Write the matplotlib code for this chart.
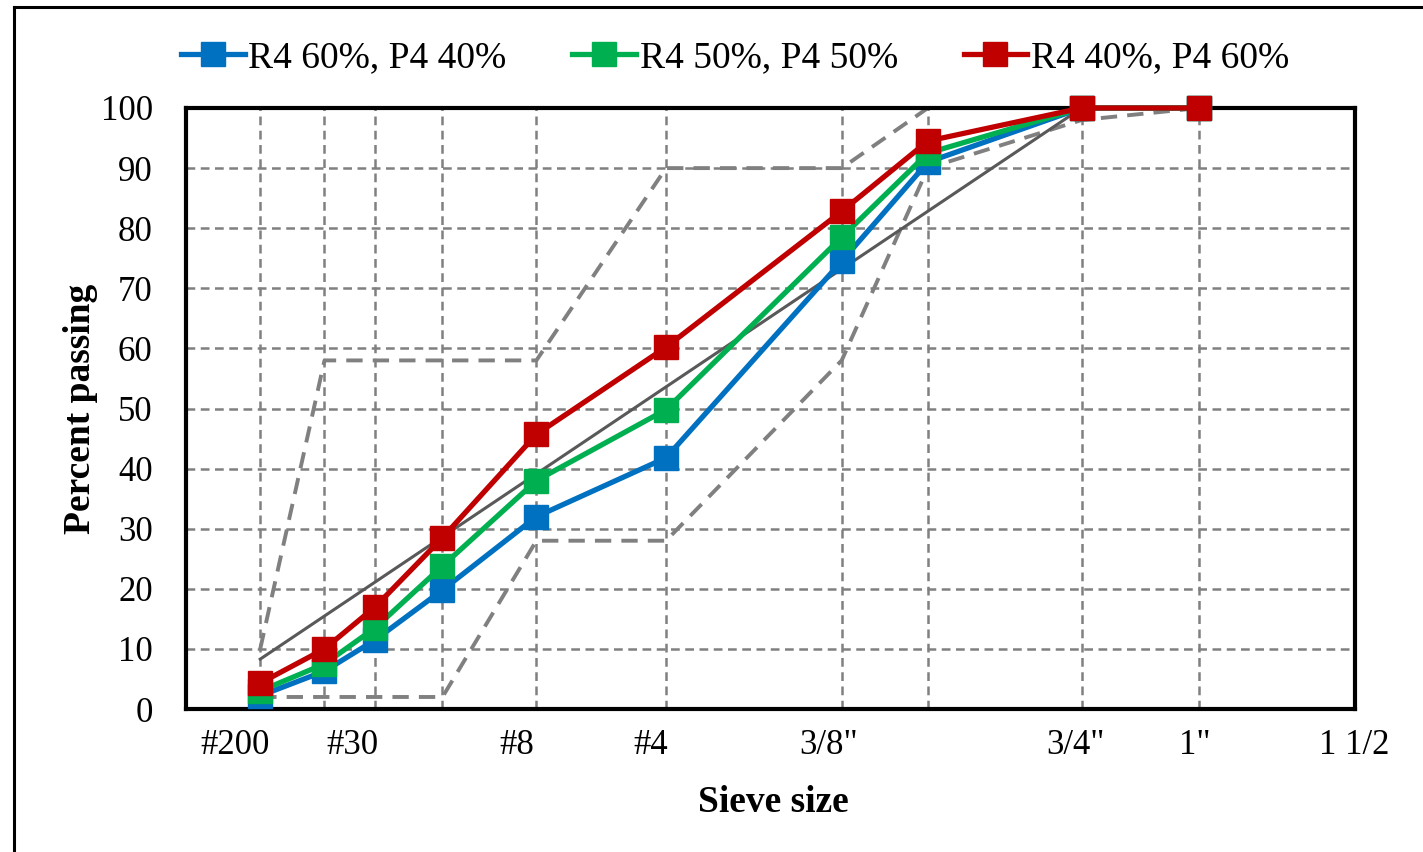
import matplotlib
matplotlib.use("Agg")
import matplotlib.pyplot as plt
from matplotlib.lines import Line2D
import numpy as np

plt.rcParams['font.family'] = ['Liberation Serif', 'DejaVu Serif']

# ---- data ----
sieve_mm = [0.075, 0.3, 0.6, 1.18, 2.36, 4.75, 9.5, 12.5, 19, 25]
series_names = ["R4 60%, P4 40%", "R4 50%, P4 50%", "R4 40%, P4 60%"]
blue_pct = [2.2, 6.3, 11.5, 19.8, 32.0, 41.8, 74.5, 91.0, 100, 100]
green_pct = [3.0, 7.5, 13.5, 23.8, 38.0, 49.8, 78.5, 92.5, 100, 100]
red_pct = [4.3, 10.0, 17.0, 28.5, 45.7, 60.2, 82.8, 94.5, 100, 100]

upper_sizes = [0.075, 0.3, 2.36, 4.75, 9.5, 12.5, 19, 25]
upper_pct = [10, 58, 58, 90, 90, 100, 100, 100]
lower_sizes = [0.075, 1.18, 2.36, 4.75, 9.5, 12.5, 19, 25]
lower_pct = [2, 2, 28, 28, 58, 90, 98, 100]

mdl_sizes = [0.075, 19]
mdl_pct = [8.3, 100]

tick_labels = ["#200", "#30", "#8", "#4", '3/8"', '3/4"', '1"', "1 1/2"]
tick_label_pos = [0.206, 0.697, 1.389, 1.951, 2.698, 3.735, 4.238, 4.906]

colors = ["#0070C0", "#00B050", "#C00000"]

def p45(v):
    return np.asarray(v, dtype=float) ** 0.45

fig = plt.figure(figsize=(14.23, 8.52), dpi=100)
ax = fig.add_axes([186/1423, 1-709/852, (1355-186)/1423, (709-108)/852])

ax.set_xlim(0, 4.91)
ax.set_ylim(0, 100)

# grid
for xv in p45(sieve_mm):
    ax.axvline(xv, color="#808080", lw=1.8, dashes=(3.5, 2.2), zorder=1)
for yv in range(10, 100, 10):
    ax.axhline(yv, color="#808080", lw=1.8, dashes=(3.5, 2.2), zorder=1)

# control limits
ax.plot(p45(upper_sizes), upper_pct, color="#808080", lw=2.8, dashes=(4.2, 2.6), zorder=2)
ax.plot(p45(lower_sizes), lower_pct, color="#808080", lw=2.8, dashes=(4.2, 2.6), zorder=2)

# maximum density line
ax.plot(p45(mdl_sizes), mdl_pct, color="#595959", lw=2.2, zorder=3)

for name, vals, c in zip(series_names, [blue_pct, green_pct, red_pct], colors):
    ax.plot(p45(sieve_mm), vals, color=c, lw=3.8, marker="s", markersize=17,
            markerfacecolor=c, markeredgecolor=c, label=name, zorder=4, clip_on=False)

for s in ax.spines.values():
    s.set_linewidth(3)
    s.set_color("black")
    s.set_zorder(3.5)

ax.set_yticks(range(0, 101, 10))
ax.tick_params(axis='y', length=0, pad=24, labelsize=25)
ax.set_xticks([])
for lab, xp in zip(tick_labels, tick_label_pos):
    ax.text(xp, -6.1, lab, ha="center", va="center", fontsize=25, clip_on=False)

ax.set_ylabel("Percent passing", fontsize=27, fontweight="bold")
ax.yaxis.set_label_coords((98-186)/1169, 0.5)
fig.text(773/1423, 1-802/852, "Sieve size", ha="center", va="center",
         fontsize=27, fontweight="bold")

handles = [Line2D([0], [0], color=c, lw=3.8, marker="s", markersize=17,
                  markerfacecolor=c, markeredgecolor=c) for c in colors]
fig.legend(handles, series_names, loc="center", bbox_to_anchor=(735/1423, 1-58/852),
           ncol=3, frameon=False, fontsize=27, handlelength=1.7, handletextpad=0.1,
           columnspacing=1.75)

# outer border
fig.add_artist(Line2D([14/1423, 14/1423], [0, 1-7/852], color="black", lw=2.2,
                      transform=fig.transFigure))
fig.add_artist(Line2D([14/1423, 1], [1-7/852, 1-7/852], color="black", lw=2.2,
                      transform=fig.transFigure))

fig.savefig("out.png", dpi=100)
